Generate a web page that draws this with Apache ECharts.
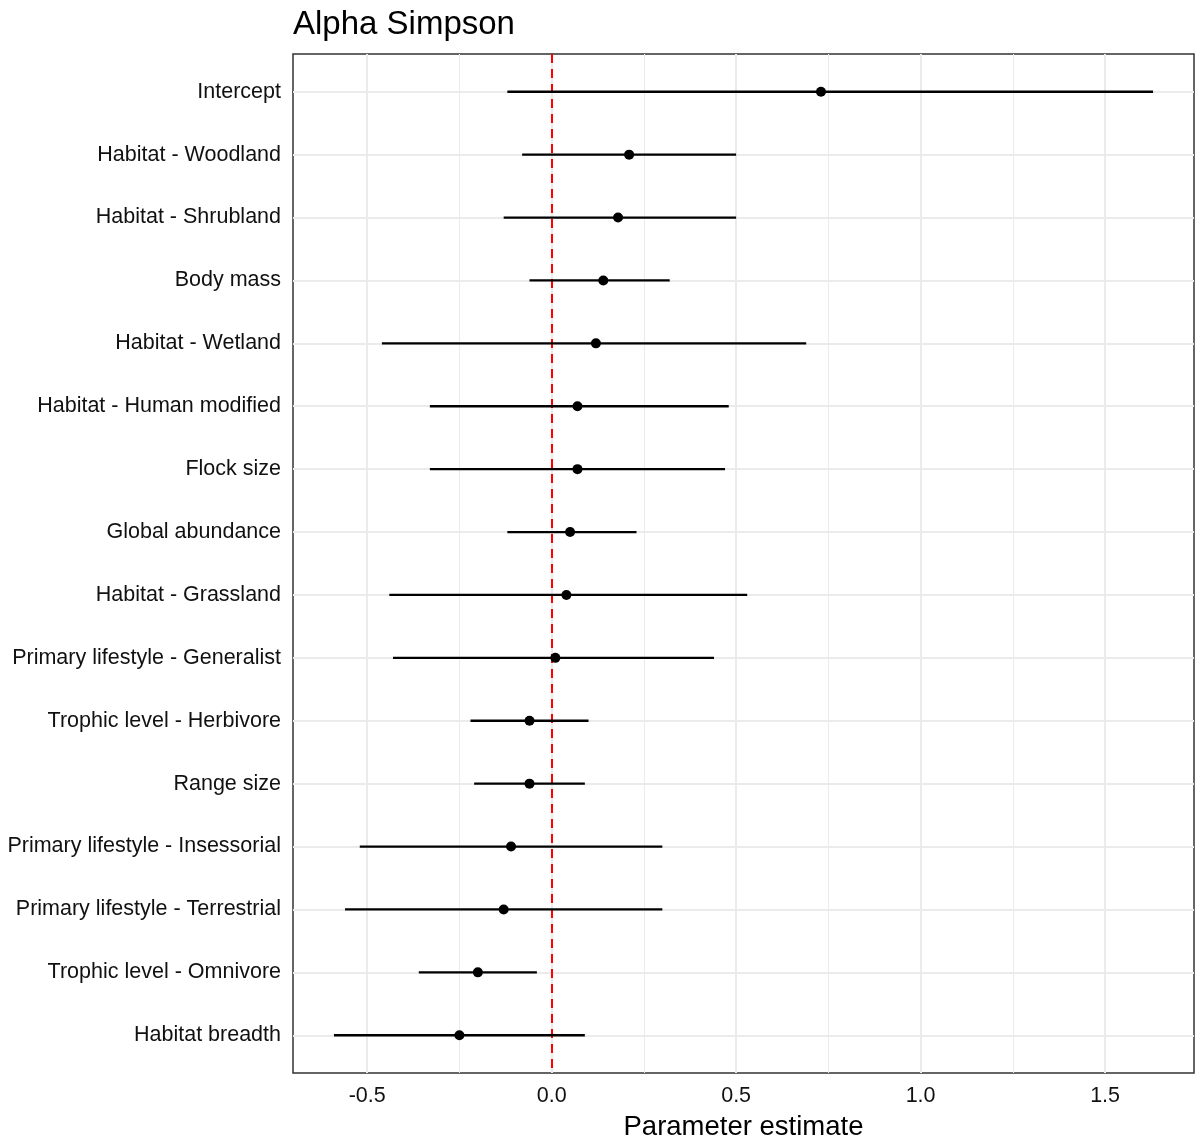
<!DOCTYPE html>
<html>
<head>
<meta charset="utf-8">
<title>Alpha Simpson</title>
<script src="https://cdn.jsdelivr.net/npm/echarts@6/dist/echarts.min.js"></script>
<style>
  html, body { margin: 0; padding: 0; background: #fff; }
  #chart { width: 1198px; height: 1141px; }
</style>
</head>
<body>
<div id="chart"></div>
<script>
// Model terms, top to bottom
const terms = [
  'Intercept',
  'Habitat - Woodland',
  'Habitat - Shrubland',
  'Body mass',
  'Habitat - Wetland',
  'Habitat - Human modified',
  'Flock size',
  'Global abundance',
  'Habitat - Grassland',
  'Primary lifestyle - Generalist',
  'Trophic level - Herbivore',
  'Range size',
  'Primary lifestyle - Insessorial',
  'Primary lifestyle - Terrestrial',
  'Trophic level - Omnivore',
  'Habitat breadth'
];
// Posterior estimates and interval bounds
const estimate = [0.73, 0.21, 0.18, 0.14, 0.12, 0.07, 0.07, 0.05, 0.04, 0.01, -0.06, -0.06, -0.11, -0.13, -0.20, -0.25];
const lower    = [-0.12, -0.08, -0.13, -0.06, -0.46, -0.33, -0.33, -0.12, -0.44, -0.43, -0.22, -0.21, -0.52, -0.56, -0.36, -0.59];
const upper    = [1.63, 0.50, 0.50, 0.32, 0.69, 0.48, 0.47, 0.23, 0.53, 0.44, 0.10, 0.09, 0.30, 0.30, -0.04, 0.09];

// Axis ticks
const xMajor = [-0.5, 0, 0.5, 1, 1.5];
const xMinor = [-0.25, 0.25, 0.75, 1.25];
const xLabels = ['-0.5', '0.0', '0.5', '1.0', '1.5'];

const rows = estimate.map((e, i) => [i, lower[i], e, upper[i]]);
const yIdx = terms.map((_, i) => i);

const font = '"Liberation Sans", Arial, sans-serif';
const gridCol = '#ebebeb';
const textCol = '#111';

const chart = echarts.init(document.getElementById('chart'), null, { renderer: 'canvas' });

chart.setOption({
  animation: false,
  backgroundColor: '#fff',
  title: {
    text: 'Alpha Simpson',
    left: 288,
    top: 3,
    textStyle: { fontFamily: font, fontSize: 33, fontWeight: 'normal', color: '#000' }
  },
  grid: {
    left: 293, right: 4, top: 54, bottom: 68,
    outerBoundsMode: 'none',
    containLabel: false,
    show: true, borderColor: '#333', borderWidth: 1.5, backgroundColor: 'transparent'
  },
  xAxis: {
    type: 'value',
    min: -0.701,
    max: 1.741,
    name: 'Parameter estimate',
    nameLocation: 'middle',
    nameGap: 40,
    nameTextStyle: { fontFamily: font, fontSize: 27.5, color: '#000' },
    axisLine: { show: true, lineStyle: { color: '#333', width: 1.5 } },
    axisTick: { show: true, length: 5, customValues: xMajor, lineStyle: { color: '#333', width: 1.5 } },
    axisLabel: {
      customValues: xMajor,
      margin: 12,
      fontFamily: font, fontSize: 21.5, color: textCol,
      formatter: v => xLabels[xMajor.indexOf(v)] ?? ''
    },
    splitLine: { show: false }
  },
  yAxis: {
    type: 'value',
    inverse: true,
    min: -0.6,
    max: 15.6,
    axisLine: { show: true, lineStyle: { color: '#333', width: 1.5 } },
    axisTick: { show: true, length: 5, customValues: yIdx, lineStyle: { color: '#333', width: 1.5 } },
    axisLabel: {
      customValues: yIdx,
      margin: 12,
      padding: [3, 0, 0, 0],
      fontFamily: font, fontSize: 21.5, color: textCol,
      formatter: v => terms[v] ?? ''
    },
    splitLine: { show: false }
  },
  series: [
    {
      // panel grid lines
      type: 'line',
      data: [],
      silent: true,
      z: 1,
      markLine: {
        silent: true,
        symbol: 'none',
        label: { show: false },
        animation: false,
        data: [
          ...xMinor.map(v => ({ xAxis: v, lineStyle: { color: gridCol, width: 1, type: 'solid' } })),
          ...xMajor.map(v => ({ xAxis: v, lineStyle: { color: gridCol, width: 2, type: 'solid' } })),
          ...yIdx.map(v => ({ yAxis: v, lineStyle: { color: gridCol, width: 2, type: 'solid' } }))
        ]
      }
    },
    {
      // zero reference line
      type: 'line',
      data: [],
      silent: true,
      z: 5,
      markLine: {
        silent: true,
        symbol: 'none',
        label: { show: false },
        animation: false,
        data: [{ xAxis: 0, lineStyle: { color: '#ff0000', width: 2, type: [9, 6] } }]
      }
    },
    {
      // interval bars and point estimates
      type: 'custom',
      z: 10,
      data: rows,
      encode: { x: [1, 2, 3], y: 0 },
      renderItem: (params, api) => {
        const y = api.value(0);
        const a = api.coord([api.value(1), y]);
        const m = api.coord([api.value(2), y]);
        const b = api.coord([api.value(3), y]);
        return {
          type: 'group',
          children: [
            { type: 'line', shape: { x1: a[0], y1: a[1], x2: b[0], y2: b[1] },
              style: { stroke: '#000', lineWidth: 2.3 } },
            { type: 'circle', shape: { cx: m[0], cy: m[1], r: 5 },
              style: { fill: '#000' } }
          ]
        };
      }
    }
  ]
});
</script>
</body>
</html>
